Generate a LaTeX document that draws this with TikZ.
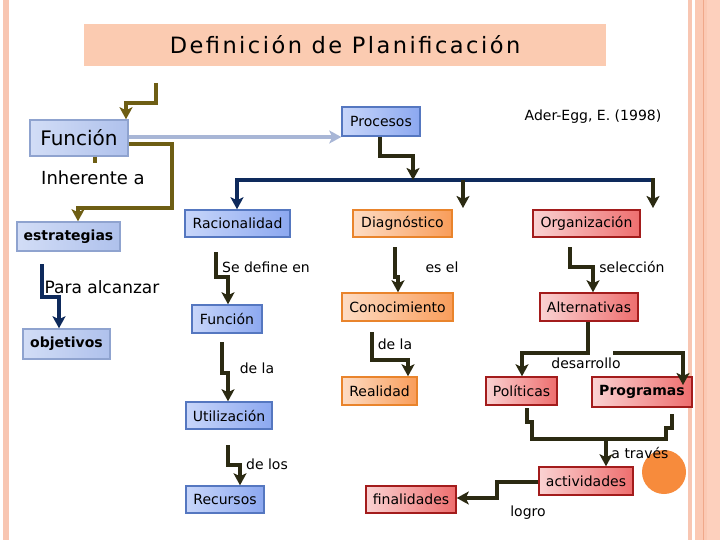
\documentclass[tikz,border=0pt]{standalone}
\usepackage{fontspec}
\setmainfont{DejaVu Sans}
\newfontfamily\titlefont[LetterSpace=11]{DejaVu Sans}
\usetikzlibrary{arrows.meta}
\definecolor{stripeA}{HTML}{F8C6B2}
\definecolor{stripeB}{HTML}{FBC9B4}
\definecolor{stripeC}{HTML}{FDD0BD}
\definecolor{stripeD}{HTML}{F0A88A}
\definecolor{titlefill}{HTML}{FBCBB1}
\definecolor{olv}{HTML}{6E5E14}
\definecolor{navy}{HTML}{0E2A5C}
\definecolor{darkc}{HTML}{2B2A12}
\definecolor{lightarr}{HTML}{A8B6D6}
\definecolor{ltL}{HTML}{D2DDF6}
\definecolor{ltR}{HTML}{AFC1EC}
\definecolor{ltB}{HTML}{8FA3CF}
\definecolor{blL}{HTML}{C8D6FA}
\definecolor{blR}{HTML}{8CA8F0}
\definecolor{blB}{HTML}{5577C0}
\definecolor{orL}{HTML}{FDDCC4}
\definecolor{orR}{HTML}{F99D5A}
\definecolor{orB}{HTML}{E9842C}
\definecolor{rdL}{HTML}{FAD2D2}
\definecolor{rdR}{HTML}{EE6E6E}
\definecolor{rdB}{HTML}{A31C1C}
\definecolor{circ}{HTML}{F78B3C}
\tikzset{
  boxbase/.style={line width=1.5pt, inner sep=0pt, minimum height=27pt, font=\fontsize{14}{16}\selectfont},
  bxlight/.style={boxbase, draw=ltB, left color=ltL, right color=ltR},
  bxblue/.style={boxbase, draw=blB, left color=blL, right color=blR},
  bxor/.style={boxbase, draw=orB, left color=orL, right color=orR},
  bxred/.style={boxbase, draw=rdB, left color=rdL, right color=rdR},
  lbl/.style={inner sep=0pt, font=\fontsize{14}{16}\selectfont},
  conn/.style={line width=3.8pt, line join=miter},
  arr/.style={conn, -{Stealth[width=13pt,length=12pt,inset=3pt]}},
}
\begin{document}
\begin{tikzpicture}[x=1pt,y=-1pt]
\fill[white] (0,0) rectangle (720,540);
\useasboundingbox (0,0) rectangle (720,540);
% page stripes
\fill[stripeA] (3,0) rectangle (9,540);
\fill[stripeA] (688,0) rectangle (692,540);
\fill[stripeB] (695,0) rectangle (720,540);
\fill[stripeC] (707,0) rectangle (720,540);
\draw[stripeD, line width=1pt] (703,0) -- (703,540);
% title
\node[fill=titlefill, minimum width=522pt, minimum height=42pt, inner sep=0pt,
      font=\titlefont\fontsize{22.5}{24}\selectfont, text=black] (title) at (345,45) {Definición de Planificación};
% circle
\fill[circ] (664,472) circle (22pt);
% boxes
\node[bxlight, minimum width=98pt, minimum height=36pt, font=\fontsize{20}{22}\selectfont] (func1) at (79,138) {Función};
\node[bxlight, minimum width=103pt, minimum height=29pt, font=\bfseries\fontsize{14}{16}\selectfont] (est) at (68.5,236.5) {estrategias};
\node[bxlight, minimum width=87pt, minimum height=30pt, font=\bfseries\fontsize{14}{16}\selectfont] (obj) at (66.5,344) {objetivos};
\node[bxblue, minimum width=78pt, minimum height=29pt] (proc) at (381,121.5) {Procesos};
\node[bxblue, minimum width=105pt] (rac) at (237.5,223.5) {Racionalidad};
\node[bxblue, minimum width=70pt, minimum height=28pt] (func2) at (227,319) {Función};
\node[bxblue, minimum width=86pt] (util) at (229,415.5) {Utilización};
\node[bxblue, minimum width=78pt] (recu) at (225,499.5) {Recursos};
\node[bxor, minimum width=99pt] (diag) at (402.5,223.5) {Diagnóstico};
\node[bxor, minimum width=111pt, minimum height=28pt] (cono) at (397.5,307) {Conocimiento};
\node[bxor, minimum width=75pt, minimum height=28pt] (real) at (379.5,391) {Realidad};
\node[bxred, minimum width=107pt] (org) at (586.5,223.5) {Organización};
\node[bxred, minimum width=98pt, minimum height=28pt] (alt) at (589,307) {Alternativas};
\node[bxred, minimum width=71pt, minimum height=28pt] (pol) at (521.5,391) {Políticas};
\node[bxred, minimum width=100pt, minimum height=30pt, font=\bfseries\fontsize{14}{16}\selectfont] (prog) at (642,392) {Programas};
\node[bxred, minimum width=94pt, minimum height=28pt] (act) at (586,481) {actividades};
\node[bxred, minimum width=90pt] (fin) at (411,499.5) {finalidades};
% labels
\node[lbl] (ader) at (593,117) {Ader-Egg, E. (1998)};
\node[lbl, font=\fontsize{18}{20}\selectfont] (inh) at (93,178) {Inherente a};
\node[lbl, font=\fontsize{17}{19}\selectfont] (para) at (102,287) {Para alcanzar};
\node[lbl] (sedef) at (266,267) {Se define en};
\node[lbl] (dela1) at (257,368) {de la};
\node[lbl] (delos) at (267,464) {de los};
\node[lbl] (esel) at (442,267) {es el};
\node[lbl] (dela2) at (395,344) {de la};
\node[lbl] (selec) at (632,267) {selección};
\node[lbl] (desa) at (586,363) {desarrollo};
\node[lbl] (atra) at (640,453) {a través};
\node[lbl] (logro) at (528,513) {logro};
% connectors
\coordinate (topin) at (156,83);
\draw[arr, olv] (topin) -- (156,103) -- (126,103) -- (126,0 |- func1.north);
\draw[arr, olv] (func1.east |- 0,144) -- (172,144) -- (172,208) -- (78,208) -- (78,0 |- est.north);
\draw[conn, olv] (95,0 |- func1.south) -- (95,163);
\draw[arr, lightarr] (func1.east |- 0,137) -- (proc.west |- 0,137);
\draw[arr, navy] (42,264) -- (42,297) -- (59,297) -- (59,0 |- obj.north);
\draw[arr, navy] (653,180) -- (237,180) -- (237,0 |- rac.north);
\draw[arr, darkc] (380,0 |- proc.south) -- (380,156) -- (413,156) -- (413,180);
\draw[arr, darkc] (463,180) -- (463,208);
\draw[arr, darkc] (653,178.1) -- (653,208);
\draw[arr, darkc] (216,252) -- (216,277) -- (228,277) -- (228,0 |- func2.north);
\draw[arr, darkc] (222,342) -- (222,373) -- (228,373) -- (228,0 |- util.north);
\draw[arr, darkc] (228,445) -- (228,465) -- (240,465) -- (240,0 |- recu.north);
\draw[arr, darkc] (395,247) -- (395,277) -- (398,277) -- (398,0 |- cono.north);
\draw[arr, darkc] (372,332) -- (372,360) -- (408,360) -- (408,0 |- real.north);
\draw[arr, darkc] (570,247) -- (570,267) -- (593,267) -- (593,0 |- alt.north);
\draw[arr, darkc] (588,0 |- alt.south) -- (588,353) -- (522,353) -- (522,0 |- pol.north);
\draw[arr, darkc] (613,353) -- (683,353) -- (683,385);
\draw[conn, darkc] (527,408) -- (527,422) -- (532,422) -- (532,439) -- (666,439) -- (666,428) -- (672,428) -- (672,414);
\draw[arr, darkc] (606,439) -- (606,0 |- act.north);
\draw[arr, darkc] (act.west |- 0,482) -- (497,482) -- (497,498) -- (fin.east |- 0,498);
\end{tikzpicture}
\end{document}
